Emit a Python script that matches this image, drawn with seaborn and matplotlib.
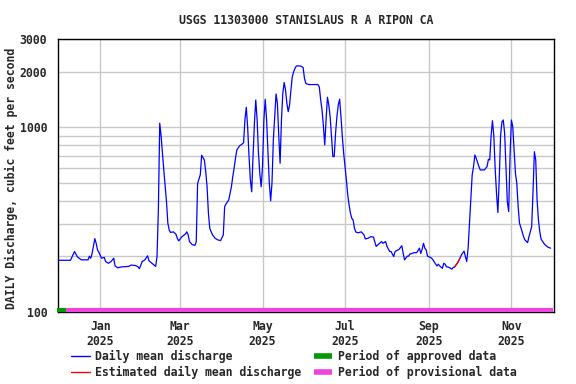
import pandas as pd
import matplotlib
matplotlib.use("Agg")
import matplotlib.pyplot as plt
from matplotlib.lines import Line2D
from matplotlib.ticker import FixedLocator, FixedFormatter, NullFormatter
import seaborn as sns

# Daily mean discharge (days counted from 2025-01-01)
days = [-31, -22, -19, -17, -16, -14, -9, -8, -7, -6, -4, -3, -2, -1,
        1, 3, 4, 6, 8, 10, 11, 13, 16, 21, 23, 26, 28, 29,
        31, 33, 35, 36, 39, 41, 42, 43, 44, 45, 46, 47, 49, 50, 51, 52, 54, 56, 57, 58,
        60, 61, 63, 64, 65, 66, 68, 70, 71, 72, 74, 75, 77, 78, 79, 80, 81, 83, 85, 87, 89,
        91, 92, 93, 95, 97, 98, 99, 100, 101, 103, 105, 106, 107, 108, 109, 110, 111, 112,
        113, 114, 115, 116, 117, 118, 119,
        120, 121, 122, 123, 124, 125, 126, 127, 128, 129, 130, 131, 132, 133, 134, 135, 136,
        137, 138, 139, 140, 141, 142, 143, 144, 145, 148, 150,
        151, 152, 154, 161, 162, 163, 164, 165, 166, 167, 168, 169, 170, 171, 172, 173, 174,
        175, 176, 177, 178, 179, 180,
        181, 182, 183, 184, 185, 186, 187, 188, 189, 191, 193, 195, 196, 198, 200, 202, 203,
        204, 206, 208, 209, 211,
        212, 214, 215, 217, 218, 220, 221, 223, 224, 225, 227, 228, 229, 230, 232, 234, 236,
        237, 238, 239, 240, 241, 242,
        244, 245, 246, 248, 249, 250, 251, 253, 254, 255, 256, 257, 259, 260, 261, 262, 264,
        265, 266, 267, 269, 270, 271, 272,
        273, 274, 275, 276, 277, 278, 280, 281, 284, 286, 287, 288, 289, 290, 291, 292, 293,
        294, 295, 296, 297, 298, 299, 300, 301, 302, 303,
        304, 305, 306, 307, 308, 309, 310, 312, 313, 314, 316, 317, 318, 319, 320, 321, 322,
        323, 324, 325, 326, 328, 329, 330, 331, 333]
flow = [190, 190, 212, 199, 196, 191, 191, 200, 195, 207, 249, 235, 216, 210,
        195, 197, 187, 183, 187, 195, 177, 173, 175, 176, 179, 178, 175, 171,
        187, 191, 201, 189, 181, 176, 199, 359, 1052, 900, 723, 587, 394, 302, 277, 269, 271, 263, 250, 242,
        253, 257, 264, 271, 261, 240, 231, 229, 240, 496, 553, 705, 665, 575, 476, 342, 283, 261, 250, 245, 243,
        261, 371, 384, 403, 476, 540, 600, 679, 753, 792, 812, 826, 1100, 1284, 1000, 700, 518, 447,
        700, 1052, 1406, 1100, 723, 562, 476,
        612, 1095, 1418, 1100, 750, 500, 399, 500, 853, 1141, 1516, 1349, 900, 638, 1095, 1530, 1750,
        1594, 1349, 1215, 1321, 1594, 1880, 2000, 2086, 2150, 2150, 2110,
        1845, 1730, 1705, 1705, 1650, 1406, 1241, 1018, 802, 1100, 1455, 1321, 1141, 889, 694, 694, 929,
        1141, 1321, 1418, 1141, 889, 723,
        612, 518, 430, 379, 342, 321, 314, 283, 270, 268, 271, 261, 248, 250, 255, 254, 240,
        226, 233, 240, 235, 240,
        226, 212, 212, 199, 212, 216, 218, 228, 207, 191, 200, 200, 206, 206, 209, 209, 221,
        207, 218, 235, 221, 216, 200,
        197, 195, 191, 181, 177, 181, 177, 172, 183, 181, 175, 175, 172, 170, 174, 175, 183,
        189, 195, 203, 213, 199, 187, 221,
        300, 400, 551, 612, 708, 679, 612, 587, 587, 612, 670, 665, 900, 1085, 900, 600, 439,
        345, 518, 900, 1070, 1095, 929, 600, 394, 349, 700,
        1095, 1008, 753, 562, 496, 371, 302, 271, 255, 245, 237, 255, 271, 289, 450, 737, 665,
        403, 314, 271, 247, 235, 230, 227, 224, 221]

# estimated (red) stretch and approval periods
est_start, est_end = "2025-09-20", "2025-09-24"
approved = ["2024-11-30", "2024-12-07"]
provisional = ["2024-12-07", "2025-12-02"]

month_ticks = ["2025-01-01", "2025-03-01", "2025-05-01", "2025-07-01", "2025-09-01", "2025-11-01"]
month_labels = ["Jan\n2025", "Mar\n2025", "May\n2025", "Jul\n2025", "Sep\n2025", "Nov\n2025"]

df = pd.DataFrame({"date": pd.Timestamp("2025-01-01") + pd.to_timedelta(days, unit="D"),
                   "flow": flow})
est = df[(df["date"] >= est_start) & (df["date"] <= est_end)]

sns.set_style("white")
plt.rcParams["font.family"] = ["DejaVu Sans Mono"]
plt.rcParams["font.weight"] = "bold"
plt.rcParams["axes.titleweight"] = "bold"
plt.rcParams["axes.labelweight"] = "bold"
fs = 8.3

fig = plt.figure(figsize=(5.76, 3.84), dpi=100)
ax = fig.add_axes([0.1012, 0.1883, 0.8606, 0.7094])

sns.lineplot(data=df, x="date", y="flow", color="#0000ff", linewidth=0.9, ax=ax)
sns.lineplot(data=est, x="date", y="flow", color="#ff0000", linewidth=0.9, ax=ax)

ax.set_yscale("log")
ax.set_ylim(100, 3000)
ax.set_xlim(pd.Timestamp("2024-12-01"), pd.Timestamp("2025-12-02 12:00"))

# approval bars along the bottom
ax.plot(pd.to_datetime(provisional), [102.6, 102.6], color="#ee44dd", lw=3,
        solid_capstyle="butt", clip_on=False, zorder=5)
ax.plot(pd.to_datetime(approved), [102.6, 102.6], color="#009900", lw=3,
        solid_capstyle="butt", clip_on=False, zorder=6)

ax.yaxis.set_major_locator(FixedLocator([100, 1000, 2000, 3000]))
ax.yaxis.set_major_formatter(FixedFormatter(["100", "1000", "2000", "3000"]))
ax.yaxis.set_minor_locator(FixedLocator([200, 300, 400, 500, 600, 700, 800, 900]))
ax.yaxis.set_minor_formatter(NullFormatter())
ax.set_xticks(pd.to_datetime(month_ticks))
ax.set_xticklabels(month_labels)
ax.grid(True, which="both", color="#c8c8c8", linewidth=1)
ax.tick_params(which="both", length=0, labelsize=fs)
ax.tick_params(axis="y", pad=8)
ax.tick_params(axis="x", pad=6)
for lab in ax.get_xticklabels() + ax.get_yticklabels():
    lab.set_fontweight("bold")
for sp in ax.spines.values():
    sp.set_color("black")
    sp.set_linewidth(1)

ax.set_xlabel("")
ax.set_ylabel("DAILY Discharge, cubic feet per second", fontsize=fs, fontweight="bold")
ax.yaxis.set_label_coords(-0.082, 0.49)
ax.set_title("USGS 11303000 STANISLAUS R A RIPON CA", fontsize=fs, fontweight="bold", pad=11)

handles = [Line2D([], [], color="#0000ff", lw=1),
           Line2D([], [], color="#ff0000", lw=1),
           Line2D([], [], color="#009900", lw=4, solid_capstyle="butt"),
           Line2D([], [], color="#ee44dd", lw=4, solid_capstyle="butt")]
labels = ["Daily mean discharge", "Estimated daily mean discharge",
          "Period of approved data", "Period of provisional data"]
fig.legend(handles, labels, loc="upper left", bbox_to_anchor=(0.124, 0.089),
           ncol=2, frameon=False, prop={"size": fs, "weight": "bold"},
           handlelength=1.6, handletextpad=0.45,
           columnspacing=1.1, labelspacing=0.3, borderpad=0, borderaxespad=0)

fig.savefig("out.png", dpi=100)
